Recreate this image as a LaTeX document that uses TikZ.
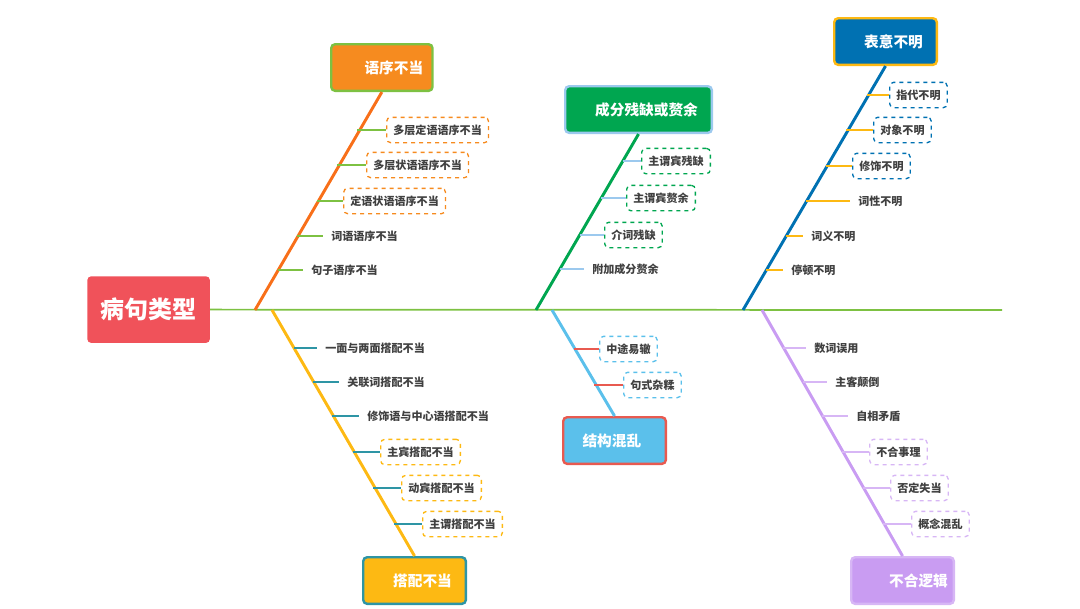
\documentclass[tikz,border=0pt]{standalone}
\usepackage{fontspec}
\setmainfont{Noto Sans CJK SC}
\begin{document}
\begin{tikzpicture}[x=0.75pt,y=-0.75pt,
  title/.style={draw,line width=1.8pt,rounded corners=3pt,minimum height=35pt,text=white,font=\bfseries\fontsize{11}{13}\selectfont,anchor=north west,inner sep=0pt},
  dbox/.style={draw,dashed,line width=1pt,rounded corners=3pt,minimum height=19pt,inner xsep=5pt,anchor=west,text=black!75,font=\bfseries\fontsize{8.3}{10}\selectfont},
  tlab/.style={anchor=west,inner xsep=0pt,text=black!75,font=\bfseries\fontsize{8.3}{10}\selectfont},
  bone/.style={line width=2.2pt},
  sub/.style={line width=1.3pt}]
\definecolor{cRed}{HTML}{F0525A}\definecolor{cOr}{HTML}{F68B1F}\definecolor{cGr}{HTML}{7DC142}
\definecolor{cDG}{HTML}{00A650}\definecolor{cLB}{HTML}{9CC9EE}\definecolor{cBl}{HTML}{0071B2}
\definecolor{cYe}{HTML}{FDB913}\definecolor{cTe}{HTML}{2E95A5}\definecolor{cSky}{HTML}{5BC0EB}
\definecolor{cRd2}{HTML}{E85A50}\definecolor{cPu}{HTML}{C99CF2}\definecolor{cLP}{HTML}{D7B6F5}
\useasboundingbox (0,0) rectangle (1080,608);
% spine
\node[fill=cRed,rounded corners=3pt,minimum width=92pt,minimum height=50pt,text=white,font=\bfseries\fontsize{18}{20}\selectfont,anchor=north west,inner sep=0pt] (head) at (87,276) {病句类型};
\coordinate (tail) at (1002,310);
\draw[cGr,line width=1.3pt] (head.east) -- (tail);
% bone 1
\node[title,fill=cOr,draw=cGr,minimum width=76pt] (t1) at (330,43) {\hspace{18pt}语序不当};
\coordinate (b1) at (255,310);
\draw[bone,cOr!80!red] (b1) -- (t1.south);
\foreach \n/\bx/\y/\x/\s/\t in {a/357/130/386/dbox/多层定语语序不当,b/337/165/366/dbox/多层状语语序不当,c/317/201/343/dbox/定语状语语序不当}{
  \node[\s,draw=cOr] (n1\n) at (\x,\y) {\t}; \coordinate (p1\n) at (\bx,\y); \draw[sub,cGr] (p1\n) -- (n1\n.west);}
\foreach \n/\bx/\y/\x/\t in {d/297/236/331/词语语序不当,e/278/270/311/句子语序不当}{
  \node[tlab] (n1\n) at (\x,\y) {\t}; \coordinate (p1\n) at (\bx,\y); \draw[sub,cGr] (p1\n) -- ([xshift=-6]n1\n.west);}
% bone 2
\node[title,fill=cDG,draw=cLB,minimum width=110pt] (t2) at (564,85) {\hspace{12pt}成分残缺或赘余};
\coordinate (b2) at (536,310);
\draw[bone,cDG] (b2) -- (t2.south);
\foreach \n/\bx/\y/\x/\t in {a/623/161/641/主谓宾残缺,b/601/198/626/主谓宾赘余,c/580/235/604/介词残缺}{
  \node[dbox,draw=cDG] (n2\n) at (\x,\y) {\t}; \coordinate (p2\n) at (\bx,\y); \draw[sub,cLB] (p2\n) -- (n2\n.west);}
\node[tlab] (n2d) at (592,269) {附加成分赘余}; \coordinate (p2d) at (560,269); \draw[sub,cLB] (p2d) -- ([xshift=-6]n2d.west);
% bone 3
\node[title,fill=cBl,draw=cYe,minimum width=77pt] (t3) at (833,17) {\hspace{12pt}表意不明};
\coordinate (b3) at (743,310);
\draw[bone,cBl] (b3) -- (t3.south);
\foreach \n/\bx/\y/\x/\t in {a/867/95/889/指代不明,b/846/130/873/对象不明,c/826/166/852/修饰不明}{
  \node[dbox,draw=cBl] (n3\n) at (\x,\y) {\t}; \coordinate (p3\n) at (\bx,\y); \draw[sub,cYe] (p3\n) -- (n3\n.west);}
\foreach \n/\bx/\y/\x/\t in {d/806/201/838/词性不明,e/786/236/791/词义不明,f/766/270/771/停顿不明}{
  \node[tlab] (n3\n) at (\x+20,\y) {\t}; \coordinate (p3\n) at (\bx,\y); \draw[sub,cYe] (p3\n) -- ([xshift=-6]n3\n.west);}
% bone 4
\node[title,fill=cYe,draw=cTe,minimum width=77pt] (t4) at (362,556) {\hspace{12pt}搭配不当};
\coordinate (b4) at (272,310);
\draw[bone,cYe] (b4) -- (t4.north);
\foreach \n/\bx/\y/\x/\t in {a/294/348/325/一面与两面搭配不当,b/313/382/347/关联词搭配不当,c/332/416/367/修饰语与中心语搭配不当}{
  \node[tlab] (n4\n) at (\x,\y) {\t}; \coordinate (p4\n) at (\bx,\y); \draw[sub,cTe] (p4\n) -- ([xshift=-6]n4\n.west);}
\foreach \n/\bx/\y/\x/\t in {d/353/452/380/主宾搭配不当,e/373/488/401/动宾搭配不当,f/394/524/422/主谓搭配不当}{
  \node[dbox,draw=cYe] (n4\n) at (\x,\y) {\t}; \coordinate (p4\n) at (\bx,\y); \draw[sub,cTe] (p4\n) -- (n4\n.west);}
% bone 5
\node[title,fill=cSky,draw=cRd2,minimum width=77pt] (t5) at (562,416) {\hspace{-4pt}结构混乱};
\coordinate (b5) at (552,310);
\draw[bone,cSky] (b5) -- (t5.north);
\foreach \n/\bx/\y/\x/\t in {a/574/349/599/中途易辙,b/594/385/623/句式杂糅}{
  \node[dbox,draw=cSky] (n5\n) at (\x,\y) {\t}; \coordinate (p5\n) at (\bx,\y); \draw[sub,cRd2] (p5\n) -- (n5\n.west);}
% bone 6
\node[title,fill=cPu,draw=cLP,minimum width=77pt] (t6) at (850,556) {\hspace{24pt}不合逻辑};
\coordinate (b6) at (762,310);
\draw[bone,cPu] (b6) -- (t6.north);
\foreach \n/\bx/\y/\x/\t in {a/783/348/814/数词误用,b/803/382/835/主客颠倒,c/822/416/856/自相矛盾}{
  \node[tlab] (n6\n) at (\x,\y) {\t}; \coordinate (p6\n) at (\bx,\y); \draw[sub,cLP] (p6\n) -- ([xshift=-6]n6\n.west);}
\foreach \n/\bx/\y/\x/\t in {d/842/452/869/不合事理,e/863/488/890/否定失当,f/883/524/911/概念混乱}{
  \node[dbox,draw=cLP] (n6\n) at (\x,\y) {\t}; \coordinate (p6\n) at (\bx,\y); \draw[sub,cLP] (p6\n) -- (n6\n.west);}
\end{tikzpicture}
\end{document}
